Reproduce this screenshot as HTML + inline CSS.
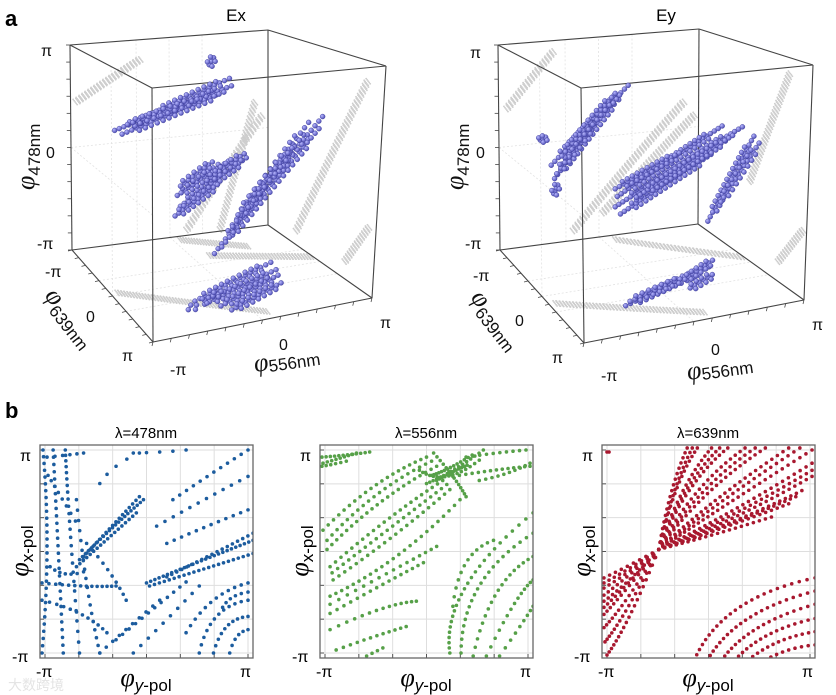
<!DOCTYPE html>
<html><head><meta charset="utf-8">
<style>
html,body{margin:0;padding:0;background:#fff;}
svg{display:block;font-family:"Liberation Sans",sans-serif;}
.phi{font-family:"Liberation Serif",serif;font-style:italic;}
</style></head>
<body>
<svg id="fig" width="836" height="695" viewBox="0 0 836 695" xmlns="http://www.w3.org/2000/svg">
<rect width="836" height="695" fill="#fff"/>
<defs>
<radialGradient id="ball" cx="35%" cy="35%" r="70%"><stop offset="0" stop-color="#b8b8ff"/><stop offset="1" stop-color="#4848b0"/></radialGradient>
<clipPath id="clip0"><rect x="40" y="445" width="213" height="213"/></clipPath>
<clipPath id="clip1"><rect x="320" y="445" width="213" height="213"/></clipPath>
<clipPath id="clip2"><rect x="602" y="445" width="213" height="213"/></clipPath>
</defs>
<text x="5" y="26" font-size="22" font-weight="bold">a</text>
<text x="5" y="418" font-size="22" font-weight="bold">b</text>
<text x="236" y="21" font-size="17" text-anchor="middle">Ex</text>
<text x="666" y="21" font-size="17" text-anchor="middle">Ey</text>

<g id="cube0"></g>
<g id="cube1"></g>

<g font-size="16" fill="#111">
<text x="41" y="56">π</text>
<text x="46" y="158">0</text>
<text x="37" y="249">-π</text>
<text x="45" y="277">-π</text>
<text x="86" y="322">0</text>
<text x="122" y="361">π</text>
<text x="170" y="375">-π</text>
<text x="279" y="350">0</text>
<text x="380" y="328">π</text>
<text transform="translate(34,190) rotate(-90)"><tspan class="phi" font-size="26">φ</tspan><tspan font-size="17" dy="6">478nm</tspan></text>
<text transform="translate(44,296) rotate(52)"><tspan class="phi" font-size="26">φ</tspan><tspan font-size="17" dy="6">639nm</tspan></text>
<text transform="translate(255,372) rotate(-8)"><tspan class="phi" font-size="26">φ</tspan><tspan font-size="17" dy="2">556nm</tspan></text>
</g>
<g font-size="16" fill="#111">
<text x="470" y="58">π</text>
<text x="476" y="158">0</text>
<text x="465" y="249">-π</text>
<text x="473" y="281">-π</text>
<text x="515" y="326">0</text>
<text x="552" y="363">π</text>
<text x="601" y="381">-π</text>
<text x="711" y="355">0</text>
<text x="812" y="330">π</text>
<text transform="translate(463,190) rotate(-90)"><tspan class="phi" font-size="26">φ</tspan><tspan font-size="17" dy="6">478nm</tspan></text>
<text transform="translate(470,298) rotate(52)"><tspan class="phi" font-size="26">φ</tspan><tspan font-size="17" dy="6">639nm</tspan></text>
<text transform="translate(688,380) rotate(-8)"><tspan class="phi" font-size="26">φ</tspan><tspan font-size="17" dy="2">556nm</tspan></text>
</g>

<g id="p0"></g>
<g id="p1"></g>
<g id="p2"></g>
<text x="8" y="690" font-size="14" fill="#e4e4e4" font-family="'Liberation Sans','Noto Sans CJK SC',sans-serif">大数跨境</text>
</svg>
<script>
const exBlue = [
 [-0.97,0,0.44,0.12,0,0.73,26],[-0.9,0,0.40,0.05,0,0.68,22],[-0.6,0,0.56,0.1,0,0.80,16],[-0.85,0,0.48,-0.2,0,0.64,14],
 [-0.09,0,0.94,-0.05,0,1.0,3],
 [-0.35,0,-0.30,0.27,0,0.06,18],[-0.38,0,-0.2,0.1,0,0.05,14],[-0.35,0,-0.12,-0.05,0,0.06,9],[-0.40,0,-0.38,0.0,0,-0.15,12],[-0.1,0,-0.1,0.25,0,0.1,10],
 [-0.02,0,-0.77,0.98,0,0.36,30],[0.05,0,-0.72,0.95,0,0.25,26],[0.15,0,-0.55,0.85,0,0.32,20],[0.2,0,-0.45,0.7,0,0.1,14],
 [-0.54,0.8,-0.82,0.15,0.8,-0.61,16],[-0.45,0.8,-0.86,0.2,0.8,-0.68,16],[-0.3,0.8,-0.9,0.22,0.8,-0.73,14],[-0.2,0.8,-0.95,0.25,0.8,-0.8,12],[-0.6,0.8,-0.88,-0.3,0.8,-0.78,5]
];
const exGray = [
 [0.76,0,-0.68,1.39,0,0.65,45],[-0.29,0,-0.52,0.41,0,0.43,35],[0.03,0,-0.56,0.34,0,0.56,35],
 [-0.35,0,-0.60,0.30,0,-0.75,25],[-0.07,0,-0.78,0.91,0,-0.94,35],[-0.95,0,-0.98,0.50,0,-1.38,50],
 [-1.33,0,0.72,-0.73,0,1.04,22],[1.24,0,-1.04,1.46,0,-0.75,14]
];
const eyBlue = [
 [-0.9,0,0.13,-0.18,0,0.76,22],[-0.87,0,0.01,-0.26,0,0.68,22],[-0.85,0,0.05,-0.5,0,0.45,10],[-0.8,0,0.2,-0.3,0,0.7,16],
 [-1.0,0,0.36,-0.95,0,0.38,3],[-0.88,0,-0.12,-0.84,0,-0.05,4],
 [-0.3,0,-0.31,0.89,0,0.27,34],[-0.28,0,-0.22,0.7,0,0.3,28],[-0.25,0,-0.38,0.6,0,0.05,24],[-0.1,0,-0.25,0.8,0,0.2,26],[-0.3,0,-0.15,0.3,0,0.1,16],
 [0.58,0,-0.56,1.0,0,0.17,20],[0.7,0,-0.4,1.05,0,0.1,14],
 [-0.54,0.8,-0.85,0.22,0.8,-0.65,18],[-0.5,0.8,-0.82,0.0,0.8,-0.7,12],[0.0,0.8,-0.72,0.25,0.8,-0.6,8],[0.05,0.8,-0.8,0.25,0.8,-0.72,6]
];
const eyGray = [
 [-0.70,0,-0.47,0.34,0,0.56,45],[-0.42,0,-0.35,0.44,0,0.43,38],[0.97,0,-0.25,1.32,0,0.72,35],
 [-0.30,0,-0.60,0.91,0,-0.94,35],[-0.87,0,-1.08,0.56,0,-1.39,45],[1.26,0,-1.04,1.49,0,-0.78,14],[-1.31,0,0.66,-0.87,0,1.12,20]
];
const titles = ["λ=478nm","λ=556nm","λ=639nm"];
const tickLabels = ["-π","π"];
const p478 = [
 [-0.66,-0.08,-0.35,0.22,-0.03,0.51,22],[-0.69,-0.15,-0.40,0.11,-0.10,0.38,18],[-0.62,-0.05,-0.35,0.24,-0.07,0.54,18],
 [0.0,-0.31,0.52,-0.10,1.05,0.11,26],[0.03,-0.34,0.54,-0.18,1.05,-0.02,22],[0.20,-0.25,0.62,-0.04,1.05,0.18,18],
 [0.26,0.51,0.63,0.76,1.0,1.0,12],[0.10,0.25,0.55,0.50,1.0,0.74,12],[0.20,0.08,0.60,0.25,1.0,0.41,12],[-0.13,0.97,0.13,0.98,0.39,1.0,5],
 [-0.30,-0.87,0.05,-0.58,0.39,-0.30,12],[-0.46,-1.0,-0.17,-0.74,0.13,-0.48,10],[-0.13,-1.0,0.2,-0.67,0.52,-0.34,10],
 [-1.02,1.0,-0.98,0.02,-1.03,-1.0,30],[-0.92,1.0,-0.87,0.02,-0.82,-1.0,28],[-0.80,1.0,-0.75,0.18,-0.66,-1.0,26],
 [-0.69,0.51,-0.59,-0.31,-0.46,-1.0,18],[-1.03,-0.31,-0.62,-0.34,-0.30,-0.34,14],[-1.03,-0.48,-0.66,-0.61,-0.39,-0.80,12],
 [-0.59,0.08,-0.36,-0.21,-0.20,-0.48,10],
 [0.52,-1.0,0.69,-0.64,1.0,-0.48,12],[0.66,-1.0,0.79,-0.74,1.0,-0.64,10],[0.39,-0.80,0.66,-0.48,1.0,-0.31,12],[0.82,-1.0,0.89,-0.84,1.0,-0.77,6],
 [-0.98,0.93,-0.79,0.95,-0.62,0.97,6],[-0.46,0.67,-0.30,0.84,-0.07,0.97,5],
 [-0.97,0.75,-0.85,0.55,-0.70,0.30,8],[-0.95,-0.15,-0.80,-0.22,-0.62,-0.20,7],[0.75,-0.55,0.85,-0.45,1.0,-0.40,6]
];
const p556 = [
 [-1.03,0.93,-0.80,0.95,-0.56,0.98,12],[-1.02,0.87,-0.85,0.92,-0.69,0.97,9],[-1.03,0.84,-0.92,0.86,-0.79,0.89,6],
 [-1.02,0.21,-0.52,0.64,0.0,0.93,20],[-0.98,0.02,-0.46,0.48,0.10,0.84,22],[-0.95,-0.15,-0.39,0.31,0.16,0.70,22],
 [-0.92,-0.28,-0.33,0.15,0.23,0.61,22],[-0.95,-0.44,-0.30,-0.05,0.33,0.51,24],[-0.95,-0.61,-0.46,-0.34,-0.03,-0.11,16],
 [-0.95,-0.77,-0.46,-0.57,-0.10,-0.49,14],[-0.89,-0.97,-0.52,-0.84,-0.20,-0.74,12],[-0.59,-1.03,-0.51,-0.99,-0.43,-0.95,4],
 [-0.98,0.11,-0.49,0.56,0.05,0.89,20],[-0.93,-0.21,-0.36,0.23,0.20,0.66,22],[-0.95,-0.52,-0.36,-0.20,0.10,0.05,16],
 [-0.07,0.80,0.20,0.74,0.52,0.90,16],[0.0,0.67,0.26,0.80,0.56,1.0,16],[0.07,0.97,0.26,0.74,0.39,0.54,14],
 [0.05,0.75,0.22,0.82,0.45,0.95,14],[0.10,0.70,0.25,0.78,0.40,0.85,12],
 [0.26,0.74,0.66,0.80,1.02,0.84,14],[0.39,0.93,0.69,0.97,0.98,1.0,10],[0.52,0.70,0.79,0.77,1.02,0.87,10],
 [0.23,-1.0,0.39,-0.34,1.05,0.38,26],[0.34,-1.0,0.52,-0.34,1.05,0.18,22],[0.46,-1.03,0.69,-0.41,1.05,-0.05,18],
 [0.59,-1.03,0.85,-0.54,1.05,-0.28,14],[0.72,-1.03,0.92,-0.74,1.05,-0.54,9],[0.26,-0.54,0.39,-0.11,0.66,0.11,12]
];
const pinch639 = [-0.49,0.02];
const rays639 = [
 [-0.37,0.57,-0.21,1.02],[-0.32,0.60,-0.11,1.02],[-0.25,0.60,0.03,1.02],[-0.19,0.60,0.19,1.02],[-0.11,0.59,0.36,1.02],
 [-0.01,0.57,0.56,1.02],[0.09,0.52,0.79,1.02],[0.19,0.47,1.02,1.0],[0.23,0.40,1.02,0.87],[0.26,0.34,1.02,0.74],
 [0.23,0.29,0.92,0.60],[0.16,0.24,0.79,0.47],[0.06,0.17,0.62,0.34],
 [-0.34,0.58,-0.16,1.02],[-0.22,0.60,0.11,1.02],[-0.06,0.58,0.46,1.02],[0.14,0.50,0.90,1.02],[0.25,0.37,1.02,0.80],[0.20,0.27,0.86,0.54],
 [-0.77,-0.13,-1.03,-0.26],[-0.77,-0.19,-1.03,-0.36],[-0.77,-0.27,-1.03,-0.49],[-0.80,-0.36,-1.03,-0.62],
 [-0.80,-0.46,-1.03,-0.75],[-0.80,-0.56,-1.02,-0.89],[-0.77,-0.62,-1.0,-1.02],
 [-0.77,-0.16,-1.03,-0.31],[-0.78,-0.23,-1.03,-0.43],[-0.79,-0.31,-1.03,-0.55]
];
const arcs639 = [
 [-0.14,-1.07,0.29,-0.56,1.05,-0.26,24],[-0.01,-1.07,0.39,-0.66,1.05,-0.39,22],[0.13,-1.07,0.49,-0.75,1.05,-0.52,19],
 [0.26,-1.07,0.59,-0.82,1.05,-0.66,16],[0.39,-1.07,0.69,-0.89,1.05,-0.79,13],[0.56,-1.07,0.79,-0.97,1.05,-0.92,9],
 [-1.0,0.98,-0.99,0.98,-0.98,0.98,2]
];

const NS="http://www.w3.org/2000/svg";
function mk(tag,attrs,parent){const e=document.createElementNS(NS,tag);for(const k in attrs)e.setAttribute(k,attrs[k]);parent.appendChild(e);return e;}

const cubes=[
 {g:'cube0',c:{'000':[72,250],'100':[268,225],'010':[153,342],'110':[372,298],'001':[70,45],'101':[268,30],'011':[152,88],'111':[386,66]},blue:exBlue,gray:exGray},
 {g:'cube1',c:{'000':[500,250],'100':[698,224],'010':[584,343],'110':[804,300],'001':[498,45],'101':[699,29],'011':[581,88],'111':[813,65]},blue:eyBlue,gray:eyGray}
];
function proj(C,x,y,z){
 const u=(x+1)/2,v=(y+1)/2,w=(z+1)/2;let px=0,py=0;
 for(const k of ['000','100','010','110','001','101','011','111']){
  const wt=(k[0]==='1'?u:1-u)*(k[1]==='1'?v:1-v)*(k[2]==='1'?w:1-w);
  px+=wt*C[k][0];py+=wt*C[k][1];
 }
 return [px,py];
}
cubes.forEach(cb=>{
 const g=document.getElementById(cb.g),C=cb.c;
 const gl=[[0,-1,-1,0,-1,1],[-1,-1,0,1,-1,0],[-1,0,-1,-1,0,1],[-1,-1,0,-1,1,0],[0,-1,-1,0,1,-1],[-1,0,-1,1,0,-1],
  [-1/3,-1,-1,-1/3,-1,1],[1/3,-1,-1,1/3,-1,1],[-1,-1/3,-1,1,-1/3,-1],[-1,1/3,-1,1,1/3,-1]];
 gl.forEach(l=>{const a=proj(C,l[0],l[1],l[2]),b=proj(C,l[3],l[4],l[5]);
  const e=mk('line',{x1:a[0],y1:a[1],x2:b[0],y2:b[1],stroke:'#e2e2e2','stroke-width':0.8,'stroke-dasharray':'2,2'},g);
  
  });
 cb.gray.forEach(s=>{const n=s[6]*2;for(let r=-2;r<=2;r++){for(let i=0;i<n;i++){const t=i/(n-1);
  const p=proj(C,s[0]+(s[3]-s[0])*t,s[1]+(s[4]-s[1])*t,s[2]+(s[5]-s[2])*t);
  const e=mk('circle',{cx:p[0]+r*1.0+((i%2)?0.6:-0.6),cy:p[1]+r*1.3,r:0.9,fill:'#cdcdcd'},g);
  
  }}});
 const E=[['000','100'],['000','010'],['000','001'],['100','110'],['100','101'],['010','110'],['010','011'],['001','101'],['001','011'],['110','111'],['101','111'],['011','111']];
 E.forEach(ed=>{const a=C[ed[0]],b=C[ed[1]];
  const e=mk('line',{x1:a[0],y1:a[1],x2:b[0],y2:b[1],stroke:'#444','stroke-width':1.1},g);
  
  });
 for(let i=0;i<=12;i++){const t=-1+i/6;
  let p=proj(C,-1,-1,t);let e=mk('line',{x1:p[0],y1:p[1],x2:p[0]-4,y2:p[1],stroke:'#444','stroke-width':0.8},g);
  
  p=proj(C,t,1,-1);e=mk('line',{x1:p[0],y1:p[1],x2:p[0]-1,y2:p[1]+4,stroke:'#444','stroke-width':0.8},g);
  
  p=proj(C,-1,t,-1);e=mk('line',{x1:p[0],y1:p[1],x2:p[0]-4,y2:p[1]+1,stroke:'#444','stroke-width':0.8},g);
  
 }
 const offs=[[0,0],[2.2,2.6],[-2.4,-1.8]];
 cb.blue.forEach(s=>{offs.forEach((o,oi)=>{const m=oi===0?s[6]:Math.max(1,Math.round(s[6]*0.6));
  for(let i=0;i<m;i++){const t=m>1?(oi===0?i/(m-1):0.15+0.7*i/(m-1)):0;
  const p=proj(C,s[0]+(s[3]-s[0])*t,s[1]+(s[4]-s[1])*t,s[2]+(s[5]-s[2])*t);
  const e=mk('circle',{cx:p[0]+o[0],cy:p[1]+o[1],r:2.5,fill:'url(#ball)',stroke:'#3c3c98','stroke-width':0.4},g);
  
  }});});
});

const panels=[{id:'p0',x0:40,color:'#1c5c9e',strands:p478},{id:'p1',x0:320,color:'#56a048',strands:p556},{id:'p2',x0:602,color:'#a8182f',strands:null}];
const Y0=445,S=213;
panels.forEach((P,pi)=>{
 const g=document.getElementById(P.id);
 const sx=v=>P.x0+5+(v+1)/2*203, sy=v=>Y0+208-(v+1)/2*203;
 const t=mk('text',{x:P.x0+106,y:438,'font-size':15,'text-anchor':'middle'},g);t.textContent=titles[pi];
 
 
 for(let i=0;i<=6;i++){const v=-1+i/3;
  let e=mk('line',{x1:sx(v),y1:Y0,x2:sx(v),y2:Y0+S,stroke:'#dedede','stroke-width':1},g);
  
  e=mk('line',{x1:P.x0,y1:sy(v),x2:P.x0+S,y2:sy(v),stroke:'#dedede','stroke-width':1},g);
  
  e=mk('line',{x1:sx(v),y1:Y0+S,x2:sx(v),y2:Y0+S-4,stroke:'#555','stroke-width':1},g);
  
  e=mk('line',{x1:P.x0,y1:sy(v),x2:P.x0+4,y2:sy(v),stroke:'#555','stroke-width':1},g);
  
 }
 const pg=mk('g',{'clip-path':'url(#clip'+pi+')'},g);
 
 
 function quad(x0,y0,xm,ym,x1,y1,n){
  const cx=2*xm-(x0+x1)/2,cy=2*ym-(y0+y1)/2;
  for(let i=0;i<n;i++){const t=n>1?i/(n-1):0,a=(1-t)*(1-t),b=2*t*(1-t),c=t*t;
   const e=mk('circle',{cx:sx(a*x0+b*cx+c*x1),cy:sy(a*y0+b*cy+c*y1),r:1.8,fill:P.color},pg);
   
   }
 }
 if(P.strands){P.strands.forEach(s=>quad(...s));}
 else{
  rays639.forEach(r=>{const len=Math.hypot(r[2]-pinch639[0],r[3]-pinch639[1]);quad(pinch639[0],pinch639[1],r[0],r[1],r[2],r[3],Math.round(len*17));});
  arcs639.forEach(s=>quad(...s));
 }
 const b=mk('rect',{x:P.x0,y:Y0,width:S,height:S,fill:'none',stroke:'#666','stroke-width':1.3},g);
 
 
 const L=[[P.x0-20,461,'π'],[P.x0-28,662,'-π'],[P.x0-4,677,'-π'],[P.x0+200,677,'π']];
 L.forEach((l,i)=>{const e=mk('text',{x:l[0],y:l[1],'font-size':16},g);e.textContent=(i===0||i===3)?tickLabels[1]:tickLabels[0];
  
  });
 const ya=mk('text',{transform:'translate('+(P.x0-12)+',551) rotate(-90)','text-anchor':'middle'},g);
 
 
 ya.innerHTML='<tspan class="phi" font-size="26">φ</tspan><tspan font-size="17" dy="5">x-pol</tspan>';
 const xa=mk('text',{x:P.x0+106,y:686,'text-anchor':'middle'},g);
 
 
 xa.innerHTML='<tspan class="phi" font-size="26">φ</tspan><tspan font-size="17" dy="5"><tspan font-style="italic">y</tspan>-pol</tspan>';
});
</script>
</body></html>
